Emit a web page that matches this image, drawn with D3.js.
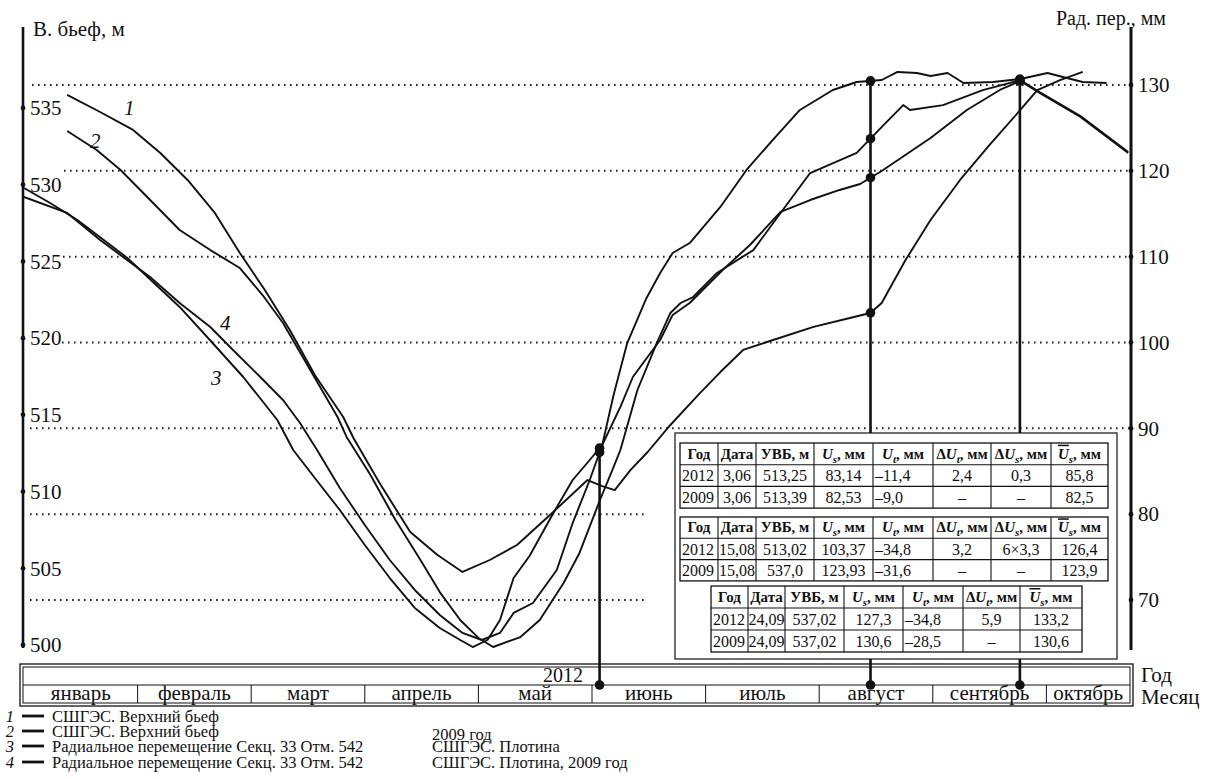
<!DOCTYPE html>
<html><head><meta charset="utf-8">
<script src="https://cdn.jsdelivr.net/npm/d3@7"></script>
<style>
html,body{margin:0;padding:0;background:#fff;}
svg{display:block;font-family:"Liberation Serif","Times New Roman",serif;}
</style></head><body>
<svg id="chart" width="1212" height="779"></svg>
<script>
// ---- data ----
const months = ["январь","февраль","март","апрель","май","июнь","июль","август","сентябрь","октябрь"];
const monthDays2012 = [31,29,31,30,31,30,31,31,30,31];
const levelTicks = [500,505,510,515,520,525,530,535];
const dispTicks = [70,80,90,100,110,120,130];

// positions along the time axis are in months since 1 January 2012
// 1: upper pool, m
const curve1 = [[0.38,535.85],[0.67,534.74],[0.96,533.57],[1.20,532.07],[1.44,530.31],[1.68,528.16],[1.90,525.55],[2.12,523.14],[2.34,520.53],[2.56,517.60],[2.81,514.86],[2.90,513.49],[3.13,510.56],[3.40,507.36],[3.64,505.87],[3.86,504.76],[4.10,505.54],[4.34,506.52],[4.63,508.47],[4.96,510.75],[5.09,510.36],[5.20,510.10],[5.34,511.41],[5.49,512.58],[5.69,514.34],[5.95,516.42],[6.13,517.79],[6.33,519.23],[6.54,519.75],[6.95,520.73],[7.27,521.31],[7.45,521.64],[7.55,522.29],[7.76,525.09],[7.98,527.70],[8.24,530.31],[8.50,532.59],[8.77,534.87],[8.92,536.17],[9.12,536.82],[9.32,537.35]];
// 2: upper pool, 2009, m
const curve2 = [[0.38,533.50],[0.64,532.26],[0.85,530.96],[1.05,529.46],[1.37,527.05],[1.64,525.74],[1.90,524.57],[2.10,522.81],[2.28,520.99],[2.52,517.92],[2.76,514.86],[2.84,513.56],[3.05,511.08],[3.27,508.15],[3.49,505.54],[3.66,503.45],[3.84,501.63],[4.00,500.46],[4.13,499.87],[4.37,500.52],[4.54,501.63],[4.75,504.04],[4.89,506.00],[5.07,509.45],[5.18,511.41],[5.25,512.71],[5.40,516.62],[5.57,519.68],[5.69,521.64],[5.78,522.29],[5.89,522.68],[6.10,524.25],[6.42,525.74],[6.66,528.16],[6.92,530.76],[7.33,532.07],[7.56,533.83],[7.74,535.19],[7.80,534.87],[8.09,535.19],[8.44,536.17],[8.77,536.82],[8.94,536.04],[9.30,534.48],[9.72,532.13]];
// 3: radial displacement, mm
const curve3 = [[0.00,118.00],[0.23,116.25],[0.47,114.27],[0.91,109.85],[1.37,104.14],[1.66,99.94],[1.93,95.98],[2.23,90.97],[2.37,87.48],[2.56,84.21],[2.78,80.49],[3.00,76.41],[3.22,72.56],[3.44,69.07],[3.66,66.74],[3.84,65.34],[3.95,64.52],[4.08,65.34],[4.19,67.67],[4.31,72.56],[4.45,75.13],[4.66,80.14],[4.83,83.98],[4.98,86.31],[5.09,88.06],[5.19,93.88],[5.31,99.94],[5.48,105.19],[5.60,108.10],[5.71,110.43],[5.86,111.59],[6.13,115.79],[6.36,120.10],[6.59,123.59],[6.83,127.09],[7.12,129.42],[7.33,130.35],[7.55,130.58],[7.69,131.52],[7.86,131.40],[7.98,131.05],[8.13,131.40],[8.27,130.24],[8.53,130.35],[8.77,130.70],[9.01,131.40],[9.18,130.82],[9.32,130.35],[9.53,130.24]];
// 4: radial displacement, 2009, mm
const curve4 = [[0.00,116.95],[0.38,115.09],[0.67,111.94],[1.11,107.63],[1.37,104.60],[1.64,101.81],[1.84,99.13],[2.08,95.98],[2.28,93.30],[2.43,90.62],[2.58,87.48],[2.78,83.05],[3.00,78.74],[3.22,74.66],[3.44,71.17],[3.66,68.25],[3.86,66.16],[4.03,65.34],[4.19,66.16],[4.31,68.49],[4.48,69.65],[4.69,73.50],[4.83,78.97],[4.98,83.98],[5.09,88.06],[5.25,92.49],[5.36,95.98],[5.45,97.61],[5.60,100.29],[5.71,103.21],[5.86,104.60],[6.15,108.45],[6.39,111.36],[6.66,115.21],[6.92,116.60],[7.18,117.77],[7.36,118.47],[7.55,119.98],[7.98,123.83],[8.30,127.09],[8.59,129.42],[8.77,130.47],[8.94,129.07],[9.30,126.27],[9.72,122.08]];

// dates of the three cuts and the curves marked on each
const markerDates = ["03.06","15.08","24.09"];
const markerCurves = [[3,4],[1,2,3,4],[2,3,4]];

// tables for the cuts
const tableHeadA = ["Год","Дата","УВБ, м","Us","Ut","dUt","dUs","Ubar"];
const tableHeadB = ["Год","Дата","УВБ, м","Us","Ut","dUt","Ubar"];
const table1Rows = [["2012","3,06","513,25","83,14","–11,4","2,4","0,3","85,8"],["2009","3,06","513,39","82,53","–9,0","–","–","82,5"]];
const table2Rows = [["2012","15,08","513,02","103,37","–34,8","3,2","6×3,3","126,4"],["2009","15,08","537,0","123,93","–31,6","–","–","123,9"]];
const table3Rows = [["2012","24,09","537,02","127,3","–34,8","5,9","133,2"],["2009","24,09","537,02","130,6","–28,5","–","130,6"]];

const legendItems = [
  ["1","СШГЭС. Верхний бьеф",""],
  ["2","СШГЭС. Верхний бьеф","2009 год"],
  ["3","Радиальное перемещение Секц. 33 Отм. 542","СШГЭС. Плотина"],
  ["4","Радиальное перемещение Секц. 33 Отм. 542","СШГЭС. Плотина, 2009 год"]
];

// ---- scales ----
const svg = d3.select("#chart");
const x = d3.scaleLinear().domain([0, 10]).range([24, 1160]);
const yL = d3.scaleLinear().domain([500, 535]).range([645, 108]);
const yR = d3.scaleLinear().domain([70, 130]).range([600, 85]);
const INK = "#111";
const SERIF = "Liberation Serif, Times New Roman, serif";

function dateToPos(s) {
  const [d, m] = s.split(".").map(Number);
  return (m - 1) + (d - 1) / monthDays2012[m - 1];
}
const series = [
  {id:1, pts:curve1, y:yL},
  {id:2, pts:curve2, y:yL},
  {id:3, pts:curve3, y:yR},
  {id:4, pts:curve4, y:yR}
];
function valueAt(pts, t) {
  for (let i = 1; i < pts.length; i++) {
    if (pts[i][0] >= t) {
      const a = pts[i-1], b = pts[i];
      const k = (t - a[0]) / (b[0] - a[0]);
      return a[1] + k * (b[1] - a[1]);
    }
  }
  return pts[pts.length-1][1];
}

// ---- dotted grid (displacement scale) ----
const gridStart = {130:32, 120:64, 110:63, 100:62, 90:30, 80:30, 70:30};
const gridEnd = {130:1131, 120:1131, 110:1131, 100:1131, 90:1131, 80:648, 70:648};
svg.append("g").selectAll("line").data(dispTicks).join("line")
  .attr("x1", d => gridStart[d]).attr("x2", d => gridEnd[d])
  .attr("y1", d => yR(d)).attr("y2", d => yR(d))
  .attr("stroke", "#222").attr("stroke-width", 2)
  .attr("stroke-dasharray", "1.6,4.4");

// ---- axes ----
const axisL = d3.axisRight(yL).tickValues(levelTicks).tickSize(0).tickPadding(7);
const gL = svg.append("g").attr("transform", "translate(23,0)").call(axisL);
gL.select(".domain").remove();
gL.attr("font-family", SERIF);
gL.selectAll("text").attr("font-size", 21).attr("font-family", SERIF).attr("fill", INK);
svg.append("line").attr("x1",23).attr("x2",23).attr("y1",27).attr("y2",648)
  .attr("stroke", INK).attr("stroke-width", 2.6);
svg.append("g").selectAll("circle").data(levelTicks).join("circle")
  .attr("cx", 23).attr("cy", d => yL(d)).attr("r", 2.4).attr("fill", INK);

const axisR = d3.axisRight(yR).tickValues(dispTicks).tickSize(0).tickPadding(7);
const gR = svg.append("g").attr("transform", "translate(1131,0)").call(axisR);
gR.select(".domain").remove();
gR.attr("font-family", SERIF);
gR.selectAll("text").attr("font-size", 21).attr("font-family", SERIF).attr("fill", INK);
svg.append("line").attr("x1",1131).attr("x2",1131).attr("y1",27).attr("y2",650)
  .attr("stroke", INK).attr("stroke-width", 3);
svg.append("g").selectAll("circle").data(dispTicks).join("circle")
  .attr("cx", 1131).attr("cy", d => yR(d)).attr("r", 2.4).attr("fill", INK);

svg.append("text").attr("x", 33).attr("y", 36).attr("font-size", 21).attr("fill", INK).text("В. бьеф, м");
svg.append("text").attr("x", 1166).attr("y", 25).attr("text-anchor", "end").attr("font-size", 20).attr("fill", INK).text("Рад. пер., мм");

// ---- curves ----
const gCurves = svg.append("g");
series.forEach(s => {
  const line = d3.line().x(d => x(d[0])).y(d => s.y(d[1]));
  gCurves.append("path").attr("d", line(s.pts))
    .attr("fill", "none").attr("stroke", INK).attr("stroke-width", 1.9)
    .attr("stroke-linejoin", "round");
});
const curveLabels = [["1",124,115],["2",90,148],["4",220,330],["3",211,385]];
svg.append("g").selectAll("text").data(curveLabels).join("text")
  .attr("x", d => d[1]).attr("y", d => d[2]).attr("font-size", 21).attr("font-style", "italic")
  .attr("fill", INK).text(d => d[0]);

// ---- month bar ----
const barTop = 664, barMid = 685, barBot = 706, barL = 20, barR = 1133;
const bar = svg.append("g");
bar.append("rect").attr("x", barL).attr("y", barTop).attr("width", barR-barL).attr("height", barBot-barTop)
  .attr("fill", "#fff").attr("stroke", INK).attr("stroke-width", 1.3);
bar.append("rect").attr("x", barL+3).attr("y", barTop+3).attr("width", barR-barL-6).attr("height", barBot-barTop-6)
  .attr("fill", "none").attr("stroke", INK).attr("stroke-width", 1);
bar.append("line").attr("x1", barL+3).attr("x2", barR-3).attr("y1", barMid).attr("y2", barMid)
  .attr("stroke", INK).attr("stroke-width", 1);
bar.selectAll("line.sep").data(d3.range(1, months.length)).join("line").attr("class","sep")
  .attr("x1", d => x(d)).attr("x2", d => x(d)).attr("y1", barMid).attr("y2", barBot-3)
  .attr("stroke", INK).attr("stroke-width", 1);
bar.selectAll("text.m").data(months).join("text").attr("class","m")
  .attr("x", (d,i) => i < months.length-1 ? (x(i)+x(i+1))/2 : (x(i)+barR-3)/2)
  .attr("y", barBot-6).attr("text-anchor", "middle").attr("font-size", 21).attr("fill", INK)
  .text(d => d);
bar.append("text").attr("x", 583).attr("y", barMid-3).attr("text-anchor", "end")
  .attr("font-size", 20).attr("fill", INK).text("2012");
svg.append("text").attr("x", 1141).attr("y", 682).attr("font-size", 21).attr("fill", INK).text("Год");
svg.append("text").attr("x", 1141).attr("y", 704).attr("font-size", 21).attr("fill", INK).text("Месяц");

// ---- cut lines with points ----
const gMark = svg.append("g");
markerDates.forEach((ds, i) => {
  const t = dateToPos(ds);
  const px = x(t);
  const pts = markerCurves[i].map(id => {
    const s = series[id-1];
    return s.y(valueAt(s.pts, t));
  });
  const top = d3.min(pts);
  gMark.append("line").attr("x1", px).attr("x2", px).attr("y1", top).attr("y2", barMid)
    .attr("stroke", INK).attr("stroke-width", 2.6);
  pts.concat([barMid]).forEach(py => {
    gMark.append("circle").attr("cx", px).attr("cy", py).attr("r", 4.8).attr("fill", INK);
  });
});

// ---- tables ----
const tbl = svg.append("g").attr("font-size", 16).attr("fill", INK);
tbl.append("rect").attr("x", 675).attr("y", 433).attr("width", 442).attr("height", 226)
  .attr("fill", "#fff").attr("stroke", INK).attr("stroke-width", 1.2);

function headCell(g, key, cx, cy) {
  const t = g.append("text").attr("x", cx).attr("y", cy).attr("text-anchor", "middle")
    .attr("font-weight", "bold").attr("font-size", 15);
  const U = (sub, bar) => {
    const u = t.append("tspan").attr("font-style", "italic").text("U");
    if (bar) u.style("text-decoration", "overline");
    t.append("tspan").attr("font-style", "italic").attr("font-size", 11).attr("dy", 4).text(sub);
    t.append("tspan").attr("dy", -4).text(", мм");
  };
  if (key === "Us") U("s");
  else if (key === "Ut") U("t");
  else if (key === "dUt") { t.append("tspan").text("Δ"); U("t"); }
  else if (key === "dUs") { t.append("tspan").text("Δ"); U("s"); }
  else if (key === "Ubar") U("s", true);
  else t.text(key);
}
function drawTable(cols, top, rowH, head, rows) {
  const g = tbl.append("g");
  const nR = rows.length + 1;
  g.append("rect").attr("x", cols[0]).attr("y", top).attr("width", cols[cols.length-1]-cols[0])
    .attr("height", nR*rowH).attr("fill", "#fff").attr("stroke", INK).attr("stroke-width", 1.3);
  for (let r = 1; r < nR; r++)
    g.append("line").attr("x1", cols[0]).attr("x2", cols[cols.length-1])
      .attr("y1", top + r*rowH).attr("y2", top + r*rowH).attr("stroke", INK).attr("stroke-width", 1.1);
  cols.slice(1, -1).forEach(c => g.append("line").attr("x1", c).attr("x2", c)
    .attr("y1", top).attr("y2", top + nR*rowH).attr("stroke", INK).attr("stroke-width", 1.1));
  head.forEach((h, j) => headCell(g, h, (cols[j]+cols[j+1])/2, top + rowH - 6));
  rows.forEach((row, r) => row.forEach((v, j) => {
    const left = j === 0 || j === 4;
    g.append("text")
      .attr("x", left ? cols[j] + 2 : (cols[j]+cols[j+1])/2)
      .attr("y", top + (r+2)*rowH - 5)
      .attr("text-anchor", left ? "start" : "middle")
      .text(v);
  }));
}
const colsA = [680,718,756,814,873,933,991,1051,1108];
const colsB = [711,748,785,844,903,963,1020,1082];
drawTable(colsA, 443, 21.7, tableHeadA, table1Rows);
drawTable(colsA, 517, 21.3, tableHeadA, table2Rows);
drawTable(colsB, 586, 22, tableHeadB, table3Rows);

// ---- legend ----
const leg = svg.append("g").attr("fill", INK);
const legY = [722, 737, 752, 768];
legendItems.forEach((it, i) => {
  leg.append("text").attr("x", 14).attr("y", legY[i]).attr("text-anchor", "end")
    .attr("font-style", "italic").attr("font-size", 16.5).text(it[0]);
  leg.append("line").attr("x1", 22).attr("x2", 44).attr("y1", legY[i]-6).attr("y2", legY[i]-6)
    .attr("stroke", INK).attr("stroke-width", 2.8);
  leg.append("text").attr("x", 52).attr("y", legY[i]).attr("font-size", 16.5).text(it[1]);
  if (it[2]) leg.append("text").attr("x", 432).attr("y", legY[i] + (i === 1 ? 3 : 0))
    .attr("font-size", 16.5).text(it[2]);
});
</script>
</body></html>
